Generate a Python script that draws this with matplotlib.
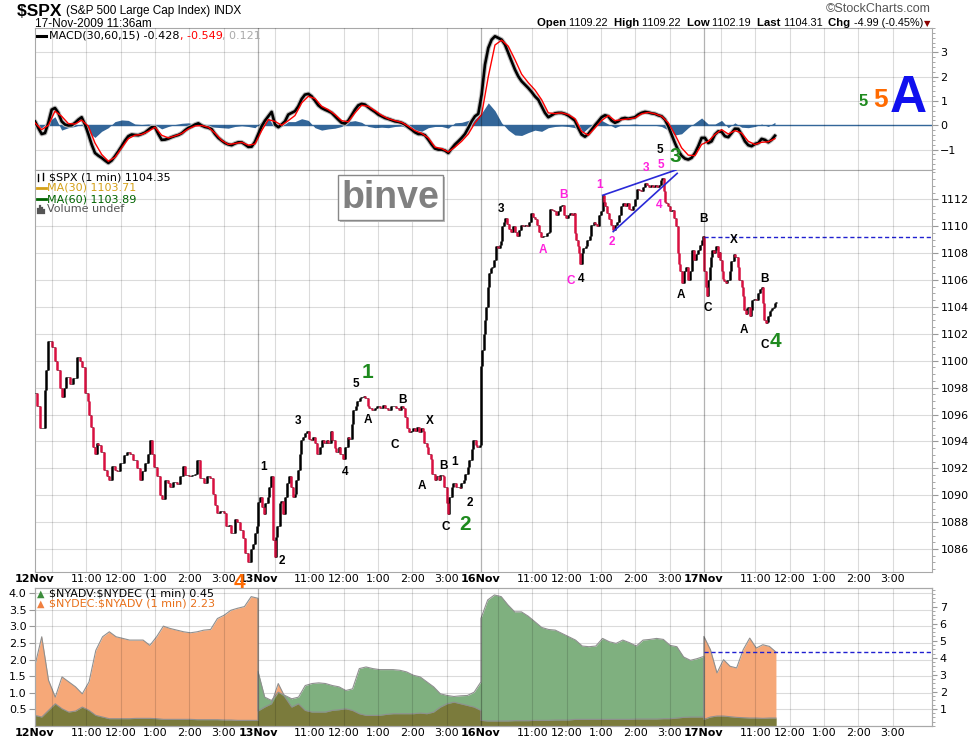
import numpy as np
import matplotlib
matplotlib.use('Agg')
import matplotlib.pyplot as plt
from matplotlib.lines import Line2D
from matplotlib.patches import Rectangle
from matplotlib.ticker import MultipleLocator

W, H = 975, 744
DAY = 390      # minutes in one session (9:30 - 16:00)
XMAX = 1569    # right edge of the plot, in session minutes from 12 Nov open

days = ['12Nov', '13Nov', '16Nov', '17Nov']
hours = ['11:00', '12:00', '1:00', '2:00', '3:00']

# $SPX 1-min closes (minutes after the open, price)
t12 = [0, 3, 9, 18, 20, 23, 29, 35, 38, 43, 47, 50, 55, 61, 67, 73, 79, 83, 88, 92,
       95, 98, 101, 105, 108, 111, 115, 120, 126, 130, 134, 140, 144, 149, 155, 161, 166, 172, 178, 183,
       187, 193, 197, 201, 205, 208, 213, 218, 222, 228, 232, 236, 242, 248, 254, 259, 263, 269, 274, 280,
       284, 289, 295, 301, 306, 311, 315, 319, 324, 330, 334, 339, 343, 349, 353, 359, 364, 368, 372, 377,
       381, 385, 389]
p12 = [1097.6, 1096.6, 1095.0, 1097.8, 1099.3, 1101.5, 1101.0, 1100.0, 1099.3, 1098.0,
       1097.3, 1098.0, 1098.8, 1098.3, 1098.7, 1100.3, 1100.0, 1099.5, 1097.6, 1097.0,
       1096.0, 1095.1, 1093.6, 1093.1, 1093.9, 1093.7, 1093.2, 1091.9, 1091.4, 1091.1,
       1092.2, 1091.9, 1091.8, 1092.4, 1093.0, 1093.2, 1093.1, 1092.6, 1092.0, 1091.1,
       1091.8, 1092.4, 1093.1, 1094.1, 1093.1, 1092.1, 1091.4, 1090.0, 1089.7, 1091.1,
       1090.9, 1090.6, 1091.0, 1090.8, 1091.4, 1092.2, 1091.5, 1091.4, 1091.5, 1091.6,
       1092.6, 1091.3, 1090.9, 1091.4, 1091.3, 1090.1, 1089.3, 1088.7, 1088.8, 1088.7,
       1087.7, 1087.8, 1087.2, 1088.2, 1088.0, 1087.4, 1086.8, 1085.7, 1085.0, 1086.0,
       1086.4, 1087.2, 1087.7]
t13 = [0, 3, 7, 10, 13, 17, 20, 23, 26, 29, 32, 34, 38, 41, 44, 47, 51, 54, 58, 61,
       64, 67, 70, 73, 76, 79, 82, 86, 89, 93, 96, 100, 104, 108, 112, 116, 120, 123, 127, 130,
       134, 137, 141, 144, 149, 153, 157, 160, 164, 167, 171, 174, 178, 181, 185, 188, 192, 195, 200, 204,
       208, 213, 218, 222, 227, 232, 236, 241, 246, 250, 254, 257, 261, 264, 268, 271, 275, 278, 282, 285,
       289, 291, 295, 298, 302, 305, 309, 312, 316, 319, 323, 326, 330, 332, 335, 339, 342, 346, 349, 353,
       356, 360, 363, 367, 370, 374, 377, 381, 384, 388]
p13 = [1089.5, 1089.9, 1089.1, 1088.6, 1089.4, 1089.9, 1090.6, 1091.4, 1086.7, 1085.4,
       1086.9, 1087.7, 1089.4, 1089.6, 1088.6, 1089.9, 1090.9, 1091.4, 1090.6, 1089.9,
       1090.1, 1091.1, 1091.9, 1093.1, 1094.1, 1094.3, 1094.6, 1094.8, 1094.2, 1094.1,
       1094.3, 1093.9, 1093.1, 1093.6, 1094.1, 1093.9, 1094.1, 1093.9, 1094.8, 1094.1,
       1093.5, 1093.2, 1093.6, 1093.1, 1092.7, 1093.6, 1094.3, 1094.2, 1095.3, 1096.3,
       1096.6, 1097.0, 1097.2, 1097.3, 1097.4, 1097.2, 1096.6, 1096.5, 1096.3, 1096.5,
       1096.6, 1096.5, 1096.7, 1096.5, 1096.3, 1096.6, 1096.6, 1096.5, 1096.3, 1096.6,
       1096.5, 1095.8, 1095.0, 1094.7, 1094.8, 1095.0, 1094.8, 1095.1, 1094.7, 1095.0,
       1094.8, 1093.9, 1093.6, 1093.1, 1092.7, 1091.6, 1091.1, 1091.4, 1091.1, 1091.5,
       1091.4, 1090.6, 1089.4, 1088.6, 1089.9, 1090.6, 1090.9, 1090.6, 1090.6, 1090.5,
       1090.9, 1091.1, 1091.6, 1092.1, 1092.6, 1093.4, 1094.1, 1093.7, 1093.6, 1093.7]
t16 = [0, 2, 5, 7, 9, 12, 14, 17, 20, 23, 26, 29, 33, 35, 37, 40, 42, 45, 49, 52,
       56, 59, 63, 66, 70, 73, 77, 80, 84, 87, 91, 94, 98, 101, 105, 108, 112, 115, 119, 121,
       124, 128, 131, 135, 138, 142, 145, 149, 152, 156, 159, 163, 165, 167, 170, 172, 174, 177, 179, 183,
       186, 190, 193, 197, 200, 203, 207, 210, 213, 215, 217, 221, 224, 228, 231, 235, 238, 242, 245, 249,
       252, 256, 259, 263, 266, 270, 273, 277, 280, 284, 287, 291, 294, 298, 301, 305, 308, 312, 315, 317,
       320, 322, 324, 328, 331, 335, 338, 342, 344, 347, 349, 351, 355, 358, 362, 365, 369, 372, 376, 379,
       383, 386, 388]
p16 = [1099.6, 1100.8, 1102.0, 1103.0, 1104.0, 1105.5, 1106.5, 1106.9, 1107.0, 1107.5,
       1108.5, 1108.4, 1108.6, 1108.9, 1110.0, 1110.3, 1110.6, 1110.2, 1109.8, 1109.6,
       1110.0, 1109.6, 1109.3, 1109.7, 1110.1, 1110.0, 1110.1, 1110.0, 1110.3, 1111.0,
       1110.7, 1110.5, 1110.1, 1109.6, 1109.2, 1109.3, 1109.3, 1109.5, 1109.6, 1111.3,
       1111.2, 1111.1, 1110.8, 1111.1, 1111.5, 1111.6, 1110.8, 1110.6, 1110.8, 1111.0,
       1110.8, 1111.0, 1109.5, 1109.0, 1108.5, 1108.0, 1107.2, 1108.0, 1108.4, 1108.5,
       1109.0, 1109.3, 1110.1, 1110.3, 1110.2, 1110.0, 1110.8, 1111.1, 1112.3, 1111.8,
       1111.5, 1111.0, 1110.5, 1110.1, 1109.7, 1110.1, 1110.3, 1110.8, 1111.5, 1111.7,
       1111.5, 1111.7, 1111.3, 1111.2, 1111.5, 1112.0, 1112.8, 1112.7, 1112.6, 1112.9,
       1113.2, 1113.1, 1112.9, 1113.1, 1112.9, 1113.1, 1112.9, 1113.1, 1113.4, 1113.6,
       1112.6, 1111.8, 1111.7, 1111.5, 1111.1, 1111.2, 1110.6, 1110.0, 1108.0, 1107.2,
       1106.7, 1105.8, 1106.7, 1107.0, 1106.0, 1106.7, 1108.2, 1107.5, 1107.9, 1108.2,
       1108.6, 1109.0, 1109.3]
t17 = [1, 3, 5, 8, 10, 12, 15, 17, 19, 22, 24, 26, 28, 31, 33, 35, 38, 41, 45, 48,
       52, 55, 59, 62, 66, 68, 70, 73, 75, 77, 80, 82, 84, 88, 91, 95, 98, 101, 103, 105,
       108, 110, 112, 115, 117, 120, 122, 124, 126]
p17 = [1106.7, 1105.5, 1104.8, 1106.0, 1107.0, 1107.7, 1108.2, 1108.0, 1108.2, 1108.5,
       1107.7, 1108.1, 1107.5, 1106.7, 1106.1, 1105.9, 1105.8, 1106.0, 1106.7, 1107.4,
       1107.9, 1107.7, 1107.0, 1106.0, 1105.5, 1104.8, 1103.8, 1103.5, 1103.9, 1104.0,
       1103.3, 1103.8, 1104.5, 1104.6, 1104.5, 1105.0, 1105.3, 1105.5, 1104.3, 1103.0,
       1102.8, 1102.9, 1103.3, 1103.7, 1103.8, 1103.9, 1104.0, 1104.3, 1104.4]
open_17 = 1109.22

# MACD(30,60,15), read every 5.83 min; signal and histogram every 11.66 min
macd_step = 5.83
macd_line = [0.16, -0.11, -0.36, -0.32, 0.1, 0.64, 0.71, 0.51, 0.16, 0.03,
             -0.01, 0, 0.1, 0.23, 0.33, 0.03, -0.36, -0.79, -1.14, -1.25,
             -1.34, -1.45, -1.55, -1.45, -1.27, -1.07, -0.86, -0.63, -0.45, -0.38,
             -0.4, -0.41, -0.36, -0.3, -0.19, -0.08, -0.08, -0.36, -0.6, -0.59,
             -0.55, -0.49, -0.44, -0.4, -0.33, -0.21, -0.11, -0.05, 0.03, 0.08,
             -0.01, -0.07, -0.1, -0.16, -0.36, -0.52, -0.63, -0.73, -0.79, -0.82,
             -0.75, -0.7, -0.7, -0.79, -0.89, -0.88, -0.68, -0.36, -0.04, 0.19,
             0.37, 0.55, 0.03, -0.08, 0.03, 0.16, 0.44,
             0.51, 0.58, 0.78, 1.08, 1.26, 1.29, 1.19, 1.01, 0.82, 0.71,
             0.64, 0.58, 0.51, 0.37, 0.23, 0.1, 0.07, 0.19, 0.41, 0.64,
             0.82, 0.88, 0.85, 0.74, 0.64, 0.55, 0.44, 0.37, 0.3, 0.26,
             0.21, 0.16, 0.14, 0.1, 0.03, -0.08, -0.18, -0.29, -0.36, -0.36,
             -0.41, -0.59, -0.79, -0.96, -1.0, -1.0, -1.04, -1.14, -0.96, -0.79,
             -0.66, -0.52, -0.36, -0.11, 0.16, 0.37, 0.47, 1.26, 2.49, 3.18,
             3.52, 3.66, 3.59, 3.52, 3.32, 2.97, 2.63, 2.29, 2.01, 1.81,
             1.67, 1.53, 1.37, 1.19,
             1.05, 0.78, 0.51, 0.33, 0.41, 0.49, 0.51, 0.51, 0.47, 0.4,
             0.3, 0.19, -0.11, -0.38, -0.47, -0.36, -0.18, 0, 0.16, 0.33,
             0.41, 0.37, 0.19, 0.1, 0.16, 0.27, 0.3, 0.27, 0.3, 0.33,
             0.44, 0.51, 0.55, 0.53, 0.49, 0.47, 0.41, 0.37, 0.23, -0.04,
             -0.38, -0.73, -1.04, -1.25, -1.37, -1.41, -1.34, -1.14, -0.86, -0.52,
             -0.52, -0.73, -0.66, -0.38, -0.25, -0.27, -0.45, -0.49, -0.32, -0.14,
             -0.15, -0.38, -0.66, -0.82, -0.86, -0.77, -0.73, -0.56, -0.6, -0.7,
             -0.6, -0.43]
signal_line = [0.1, -0.18, 0.0, 0.58, 0.37, 0.07, 0.05, 0.21, -0.04, -0.73,
               -1.2, -1.48, -1.32, -0.93, -0.55, -0.41, -0.38, -0.25, -0.08, -0.41,
               -0.52, -0.44, -0.34, -0.15, -0.03, -0.01, -0.08, -0.32, -0.62, -0.79,
               -0.75, -0.7, -0.82, -0.77, -0.22, 0.23, 0.16, 0.0, 0.19,
               0.4, 0.92, 1.19, 1.1, 0.78, 0.64, 0.44, 0.19, 0.14, 0.51,
               0.82, 0.78, 0.6, 0.41, 0.27, 0.19, 0.12, -0.04, -0.22, -0.33,
               -0.52, -0.9, -0.96, -1.1, -0.9, -0.66, -0.36, 0.1, 0.44, 2.0,
               3.3, 3.5, 3.25, 2.7, 2.1, 1.75, 1.45,
               1.05, 0.51, 0.48, 0.51, 0.44, 0.27, -0.25, -0.41, -0.11, 0.19,
               0.4, 0.19, 0.23, 0.26, 0.3, 0.47, 0.53, 0.47, 0.37, 0.1,
               -0.38, -0.93, -1.23, -1.25, -0.79, -0.66, -0.38, -0.18, -0.36, -0.22,
               -0.32, -0.66, -0.79, -0.7, -0.68, -0.55]
macd_hist = [-0.05, -0.1, 0.15, 0.35, -0.2, -0.1, -0.05, 0.05, -0.3, -0.5,
             -0.25, -0.1, 0.15, 0.22, 0.2, 0.05, 0.03, 0.05, 0.02, -0.15,
             -0.05, 0.03, 0.08, 0.1, 0.05, -0.05, -0.05, -0.08, -0.1, -0.12,
             -0.05, -0.02, -0.05, -0.1, 0.15, 0.3, -0.1, -0.05, 0.15,
             0.15, 0.27, 0.2, -0.1, -0.2, -0.15, -0.12, -0.05, 0.15, 0.19,
             0.12, -0.05, -0.1, -0.08, -0.1, -0.05, -0.03, -0.12, -0.18, -0.25,
             -0.1, -0.05, -0.05, -0.12, 0.1, 0.12, 0.2, 0.25, 0.5, 0.92,
             0.6, 0.1, -0.2, -0.4, -0.42, -0.3, -0.2,
             -0.25, -0.1, -0.05, -0.03, -0.05, -0.1, -0.35, -0.1, 0.12, 0.2,
             0.05, -0.1, 0.02, 0.03, 0.05, 0.02, 0, 0, -0.05, -0.2,
             -0.4, -0.35, -0.1, 0.1, 0.3, 0.05, 0.05, 0.2, -0.1, 0.1,
             -0.08, -0.1, -0.05, 0.05, -0.05, 0.12]

# breadth ratios per session, evenly spaced through the session
adv12 = [0.32, 0.27, 0.47, 0.67, 0.52, 0.42, 0.45, 0.57, 0.47, 0.32,
         0.27, 0.22, 0.22, 0.22, 0.22, 0.23, 0.23, 0.23, 0.22, 0.2,
         0.2, 0.2, 0.2, 0.2, 0.19, 0.19, 0.19, 0.19, 0.18, 0.18,
         0.17, 0.17, 0.17, 0.17]
dec12 = [1.83, 2.69, 1.38, 0.87, 1.48, 1.33, 1.18, 0.97, 1.33, 2.28,
         2.69, 2.84, 2.69, 2.64, 2.59, 2.59, 2.59, 2.43, 2.69, 3.01,
         2.94, 2.89, 2.84, 2.81, 2.84, 2.89, 2.91, 3.24, 3.34, 3.49,
         3.55, 3.6, 3.9, 3.85]
adv13 = [1.65, 0.87, 0.77, 1.02, 0.92, 0.82, 0.87, 1.22, 1.28, 1.3, 1.28,
         1.22, 1.18, 1.07, 1.12, 1.73, 1.78, 1.73, 1.7, 1.7, 1.7,
         1.68, 1.63, 1.53, 1.48, 1.33, 1.18, 0.97, 0.92, 0.89, 0.91,
         0.92, 1.02, 1.33]
dec13 = [0.45, 0.57, 0.67, 1.28, 0.87, 0.57, 0.67, 0.47, 0.42, 0.42, 0.42,
         0.47, 0.49, 0.52, 0.47, 0.37, 0.32, 0.32, 0.32, 0.35, 0.37,
         0.37, 0.37, 0.37, 0.39, 0.37, 0.42, 0.57, 0.67, 0.72, 0.67,
         0.62, 0.57, 0.47]
adv16 = [3.24, 3.8, 3.95, 3.9, 3.65, 3.44, 3.44, 3.31, 3.14, 2.97,
         2.91, 2.89, 2.79, 2.69, 2.59, 2.41, 2.39, 2.41, 2.64, 2.54,
         2.49, 2.59, 2.51, 2.41, 2.59, 2.61, 2.64, 2.61, 2.43, 2.39,
         2.08, 1.98, 2.03, 2.1]
dec16 = [0.17, 0.15, 0.15, 0.15, 0.15, 0.16, 0.16, 0.16, 0.17, 0.17,
         0.17, 0.18, 0.18, 0.18, 0.2, 0.2, 0.2, 0.2, 0.2, 0.2,
         0.2, 0.2, 0.2, 0.21, 0.21, 0.21, 0.21, 0.22, 0.22, 0.24,
         0.26, 0.27, 0.27, 0.27]
adv17 = [0.2, 0.27, 0.3, 0.3, 0.28, 0.26, 0.25, 0.24, 0.24, 0.23, 0.24, 0.24]
dec17 = [2.7, 2.3, 1.6, 2.0, 1.8, 1.75, 2.3, 2.65, 2.35, 2.45, 2.4, 2.23]
last_17 = 126   # 11:36

# Elliott wave labels (session minute, price, text, style)
waves = [
    (400.5, 1092.1, '1', 'k'), (432, 1085.1, '2', 'k'), (460, 1095.5, '3', 'k'),
    (542.1, 1091.7, '4', 'k'), (561.4, 1098.3, '5', 'k'), (582.4, 1095.6, 'A', 'k'),
    (643.6, 1097.1, 'B', 'k'), (629.6, 1093.7, 'C', 'k'), (690.8, 1095.5, 'X', 'k'),
    (676.8, 1090.7, 'A', 'k'), (715.3, 1092.2, 'B', 'k'), (734.5, 1092.5, '1', 'k'),
    (760.8, 1089.4, '2', 'k'), (718.8, 1087.6, 'C', 'k'), (815, 1111.3, '3', 'k'),
    (954.9, 1106.1, '4', 'k'), (1093, 1115.7, '5', 'k'), (1129.8, 1104.9, 'A', 'k'),
    (1170, 1110.5, 'B', 'k'), (1177, 1103.9, 'C', 'k'), (1222.5, 1109.0, 'X', 'k'),
    (1276.7, 1106.1, 'B', 'k'), (1240, 1102.3, 'A', 'k'), (1276.7, 1101.2, 'C', 'k'),
    (888.4, 1108.2, 'A', 'm'), (925.2, 1112.3, 'B', 'm'), (937.4, 1105.9, 'C', 'm'),
    (988.1, 1113.1, '1', 'm'), (1009.1, 1108.8, '2', 'm'), (1068.6, 1114.3, '3', 'm'),
    (1094.8, 1114.55, '5', 'm'), (1091.3, 1111.6, '4', 'm'),
    (582.4, 1099.1, '1', 'g'), (752, 1087.8, '2', 'g'), (1119.3, 1115.15, '3', 'g'),
    (1295.9, 1101.4, '4', 'g'), (356.8, 1083.5, '4', 'o'),
]
wave_style = {'k': ('black', 8.5), 'm': ('#ff22dd', 8.5),
              'g': ('#1e8a1e', 15), 'o': ('#ff6a00', 15)}
wedge_upper = ([993, 1121], [1112.3, 1114.18])
wedge_lower = ([1011.4, 1123.3], [1109.6, 1113.93])

plt.rcParams['font.family'] = 'DejaVu Sans'
fig = plt.figure(figsize=(W / 100, H / 100), dpi=100)
renderer = fig.canvas.get_renderer()


def panel(top, bottom):
    return fig.add_axes([35 / W, 1 - bottom / H, (932 - 35) / W, (bottom - top) / H])


def ftext(x, y, s, **kw):
    kw.setdefault('va', 'center')
    kw.setdefault('fontsize', 8)
    return fig.text(x / W, 1 - y / H, s, **kw)


def chain(x, y, parts, **base):
    # write differently styled pieces one after another on one line
    for s, kw in parts:
        t = ftext(x, y, s, **{**base, **kw})
        x = t.get_window_extent(renderer).x1


def fline(xs, ys, color, lw):
    fig.add_artist(Line2D([x / W for x in xs], [1 - y / H for y in ys],
                          color=color, lw=lw, transform=fig.transFigure))


ax_m = panel(28, 170)
ax_p = panel(170, 572)
ax_b = panel(588, 726)

hour_ticks = [d * DAY + 30 + 60 * h for d in range(4) for h in range(6)]
label_ticks, label_text = [], []
for d, name in enumerate(days):
    label_ticks.append(d * DAY)
    label_text.append(name)
    for h, lab in enumerate(hours):
        label_ticks.append(d * DAY + 90 + 60 * h)
        label_text.append(lab)

for ax in (ax_m, ax_p, ax_b):
    ax.set_xlim(0, XMAX)
    for x in hour_ticks:
        ax.axvline(x, color='black', alpha=0.14, lw=0.8, zorder=4)
    for d in range(1, 4):
        ax.axvline(d * DAY, color='black', alpha=0.3, lw=0.9, zorder=4)
    for s in ax.spines.values():
        s.set_color('#a8a8a8')
    ax.grid(axis='y', color='black', alpha=0.14, lw=0.8, zorder=4)
    ax.set_xticks(label_ticks)
    ax.tick_params(axis='x', length=0, labelsize=8, pad=1.5)
    ax.tick_params(axis='y', which='both', colors='#999999', labelcolor='black', labelsize=8, pad=2)
    ax.tick_params(axis='y', which='major', length=4)
    ax.tick_params(axis='y', which='minor', length=2)

ax_m.set_xticklabels([])
for ax in (ax_p, ax_b):
    ax.set_xticklabels(label_text)
    for lab in ax.get_xticklabels():
        if lab.get_text() in days:
            lab.set_fontweight('bold')

# MACD panel
tm = np.arange(len(macd_line)) * macd_step
ts = np.arange(len(signal_line)) * macd_step * 2
ax_m.fill_between(ts, 0, macd_hist, color='#336699', lw=0, zorder=2)
ax_m.axhline(0, color='#336699', lw=1, zorder=2)
ax_m.plot(tm, macd_line, color='#bbbbbb', lw=3.4, zorder=3, solid_capstyle='round')
ax_m.plot(tm, macd_line, color='black', lw=1.9, zorder=3)
ax_m.plot(ts, signal_line, color='red', lw=1, zorder=3)
ax_m.set_ylim(-1.84, 4.0)
ax_m.set_yticks([-1, 0, 1, 2, 3])
ax_m.yaxis.set_minor_locator(MultipleLocator(0.2))
ax_m.yaxis.tick_right()

# price panel
t_all = np.concatenate([d * DAY + np.array(t) for d, t in enumerate([t12, t13, t16, t17])])
p_all = np.concatenate([p12, p13, p16, p17])
prev = np.r_[p_all[0], p_all[:-1]]
down = p_all < prev
ax_p.plot(t_all, p_all, drawstyle='steps-post', color='#333333', lw=0.5, zorder=3)
ax_p.vlines(t_all[~down], prev[~down], p_all[~down], color='black', lw=1.8, zorder=3)
ax_p.vlines(t_all[down], p_all[down], prev[down], color='#d81040', lw=1.8, zorder=3)
ax_p.plot(*wedge_upper, color='#2a2ad8', lw=1.2, zorder=3)
ax_p.plot(*wedge_lower, color='#2a2ad8', lw=1.2, zorder=3)
ax_p.hlines(open_17, 3 * DAY, XMAX, colors='#2020d0', linestyles=(0, (3, 2)), lw=1, zorder=3)
ax_p.set_ylim(1084.29, 1114.18)
ax_p.set_yticks(range(1086, 1113, 2))
ax_p.yaxis.set_minor_locator(MultipleLocator(0.5))
ax_p.yaxis.tick_right()

for g, pr, s, kind in waves:
    col, size = wave_style[kind]
    ax_p.text(g, pr, s, color=col, fontsize=size, fontweight='bold', ha='center', va='center',
              family='Liberation Sans', zorder=6)

# breadth panel
bx = np.concatenate([d * DAY + np.linspace(0, DAY if d < 3 else last_17, len(a))
                     for d, a in enumerate([adv12, adv13, adv16, adv17])])
adv = np.concatenate([adv12, adv13, adv16, adv17])
dec = np.concatenate([dec12, dec13, dec16, dec17])
ax_b.fill_between(bx, 0, dec, color='#f6a878', lw=0, zorder=2)
ax_b.fill_between(bx, 0, adv, color='#7fb07f', lw=0, zorder=2)
ax_b.fill_between(bx, 0, np.minimum(adv, dec), color='#7b7b3c', lw=0, zorder=2)
ax_b.plot(bx, dec, color='#8f8f8f', lw=0.8, zorder=3)
ax_b.plot(bx, adv, color='#8f8f8f', lw=0.8, zorder=3)
ax_b.hlines(dec17[-1], 3 * DAY, XMAX, colors='#2020d0', linestyles=(0, (3, 2)), lw=1, zorder=5)
ax_b.set_ylim(0, 4.16)
ax_b.set_yticks(np.arange(0.5, 4.01, 0.5))
ax_b.set_yticklabels(['%.1f' % v for v in np.arange(0.5, 4.01, 0.5)])
ax_b2 = ax_b.twinx()
ax_b2.set_ylim(0, 8.09)
ax_b2.set_yticks(range(1, 8))
ax_b2.yaxis.set_minor_locator(MultipleLocator(0.25))
ax_b2.tick_params(axis='y', which='both', colors='#999999', labelcolor='black', labelsize=8, pad=2)
ax_b2.tick_params(axis='y', which='minor', length=2)
for s in ax_b2.spines.values():
    s.set_color('#a8a8a8')

# header
chain(17, 11, [(r'\$SPX ', dict(fontsize=12.5, fontweight='bold')),
               ('(S&P 500 Large Cap Index) ', dict(fontsize=8.5)),
               ('INDX', dict(fontsize=8.5))], family='Liberation Sans')
ftext(35, 24, '17-Nov-2009 11:36am', fontsize=8.5, family='Liberation Sans')
ftext(931, 9, '\u00a9StockCharts.com', fontsize=9, ha='right', color='#555555', family='Liberation Sans')
bold = dict(fontsize=8.2, fontweight='bold')
norm = dict(fontsize=7.8)
chain(537, 23, [('Open ', bold), ('1109.22  ', norm), ('High ', bold), ('1109.22  ', norm),
                ('Low ', bold), ('1102.19  ', norm), ('Last ', bold), ('1104.31  ', norm),
                ('Chg ', bold), ('-4.99 (-0.45%)', norm)], family='Liberation Sans')
ftext(927, 24, '\u25bc', fontsize=6, color='#8b0000', ha='center')

# panel legends
fline([37, 46], [36, 36], 'black', 2.2)
chain(49, 36, [('MACD(30,60,15) -0.428', dict(color='black')), (', -0.549', dict(color='red')),
               (', 0.121', dict(color='#aaaaaa'))])

fline([38, 38], [174, 181], 'black', 1)
fline([43, 43], [173, 180], 'black', 1)
ftext(49, 177, r'\$SPX (1 min) 1104.35')
fline([37, 46], [188, 188], '#d4a017', 2)
ftext(47, 188, 'MA(30) 1103.71', color='#d4a017')
fline([37, 46], [199, 199], '#006400', 2)
ftext(47, 199, 'MA(60) 1103.89', color='#006400')
for i, hgt in enumerate([4, 7, 5, 3]):
    fline([38 + 2 * i, 38 + 2 * i], [213, 213 - hgt], '#555555', 1.6)
ftext(47, 209, 'Volume undef', color='#555555')

ftext(41, 594, '\u25b2', fontsize=7, color='#3c8c3c', ha='center')
ftext(49, 594, r'\$NYADV:\$NYDEC (1 min) 0.45')
ftext(41, 604, '\u25b2', fontsize=7, color='#f08040', ha='center')
ftext(49, 604, r'\$NYDEC:\$NYADV (1 min) 2.23', color='#e8701a')

# watermark box
fig.add_artist(Rectangle((340 / W, 1 - 222 / H), 105 / W, 45 / H, transform=fig.transFigure,
                         fc='#bbbbbb', ec='none', zorder=5))
fig.add_artist(Rectangle((338 / W, 1 - 220 / H), 105 / W, 45 / H, transform=fig.transFigure,
                         fc='white', ec='#888888', lw=1, zorder=6))
ftext(390, 198, 'binve', fontsize=27, fontweight='bold', color='#808080', ha='center',
      family='Liberation Sans', zorder=7)

# big wave degree marks on the right
ftext(863, 101, '5', fontsize=12, fontweight='bold', color='#1e8a1e', ha='center', family='Liberation Sans')
ftext(881, 100, '5', fontsize=19, fontweight='bold', color='#ff6a00', ha='center', family='Liberation Sans')
ftext(908, 98, 'A', fontsize=37, fontweight='bold', color='#1010ee', ha='center', family='Liberation Sans')

fig.savefig('out.png', dpi=100)
